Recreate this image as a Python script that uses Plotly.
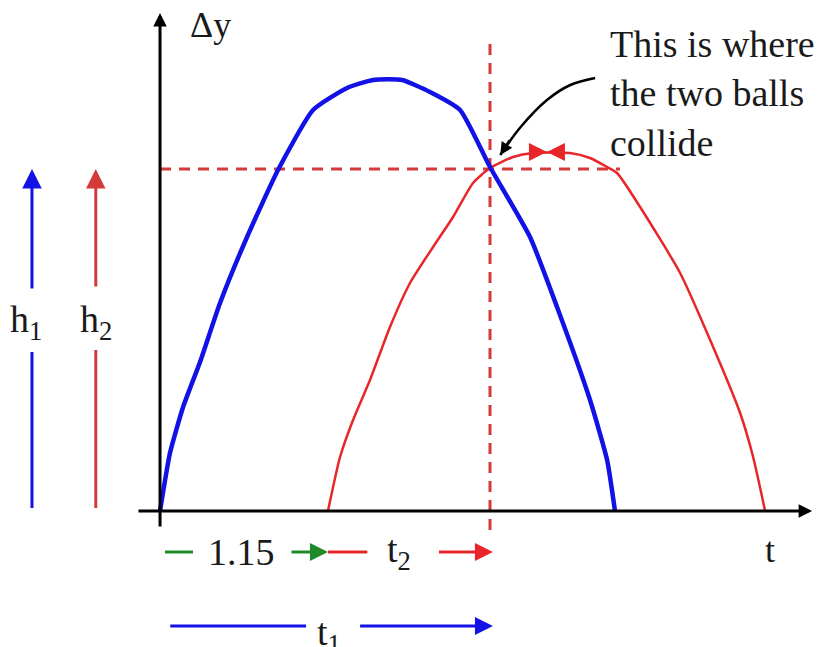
import plotly.graph_objects as go

# ---- data (time in s, height in arbitrary units) ----
t_blue = [0.0, 0.068, 0.158, 0.274, 0.411, 0.596, 0.808, 1.048, 1.281, 1.459, 1.658,
          1.849, 2.055, 2.260, 2.534, 2.719, 2.945, 3.062, 3.116]
y_blue = [0.0, 0.58, 1.04, 1.49, 2.08, 2.74, 3.41, 4.01, 4.23, 4.31, 4.31,
          4.19, 4.01, 3.44, 2.74, 2.04, 1.11, 0.51, 0.0]
t_red = [1.15, 1.233, 1.322, 1.438, 1.575, 1.712, 1.870, 2.007, 2.144, 2.260, 2.418,
         2.555, 2.808, 2.945, 3.062, 3.130, 3.288, 3.562, 3.747, 3.973, 4.062, 4.144]
y_red = [0.0, 0.54, 0.91, 1.31, 1.84, 2.28, 2.64, 2.94, 3.28, 3.43, 3.54,
         3.58, 3.58, 3.53, 3.44, 3.38, 3.04, 2.38, 1.78, 0.98, 0.54, 0.0]
t_delay = 1.15
t_collide = 2.26
h_collide = 3.42
t_red_apex = 2.65
y_red_apex = 3.59
callout_t = [2.98, 2.81, 2.65, 2.47, 2.33]
callout_y = [4.33, 4.26, 4.11, 3.84, 3.56]
callout_text = "This is where<br>the two balls<br>collide"

FONT = "Liberation Serif, Times New Roman, serif"
BLUE = "#1212e6"
RED = "#e8262a"
DRED = "#d43a3a"
GREEN = "#1f8a2a"
TXT = "#1a1a1a"

fig = go.Figure()

def seg(x, y, color, width, dash=None, shape="linear", smoothing=None):
    line = dict(color=color, width=width, dash=dash, shape=shape)
    if smoothing is not None:
        line["smoothing"] = smoothing
    fig.add_trace(go.Scatter(x=x, y=y, mode="lines", hoverinfo="skip", line=line))

# dashed guide lines
seg([t_collide, t_collide], [-0.19, 4.73], DRED, 3, "11px,8px")
seg([0, 3.15], [h_collide, h_collide], DRED, 3, "11px,8px")
# trajectories
seg(t_red, y_red, RED, 2.5, shape="spline", smoothing=0.6)
seg(t_blue, y_blue, BLUE, 4.5, shape="spline", smoothing=0.5)
# callout curve
seg(callout_t, callout_y, "black", 2.5, shape="spline")

# plain line parts of the labelled arrows
seg([-0.877, -0.877], [0.03, 1.59], BLUE, 3)
seg([-0.44, -0.44], [0.03, 1.61], DRED, 3)
seg([0.034, 0.226], [-0.41, -0.41], GREEN, 3)
seg([t_delay, 1.42], [-0.41, -0.41], RED, 3)
seg([0.07, 1.0], [-1.15, -1.15], BLUE, 3)

ann = []

def arrow(tx, ty, hx, hy, color, width=3, size=1.0, head=2):
    ann.append(dict(x=hx, y=hy, ax=tx, ay=ty, xref="x", yref="y", axref="x", ayref="y",
                    text="", showarrow=True, arrowhead=head, arrowwidth=width,
                    arrowsize=size, arrowcolor=color, standoff=0, startstandoff=0))

# axes
arrow(-0.158, 0, 4.466, 0, "black", 3, 0.9)
arrow(0, -0.17, 0, 4.98, "black", 3, 0.9)
# h arrows
arrow(-0.877, 2.21, -0.877, h_collide, BLUE, 3, 1.3)
arrow(-0.44, 2.23, -0.44, h_collide, DRED, 3, 1.3)
# time arrows
arrow(0.89, -0.41, t_delay, -0.41, GREEN, 3, 1.2)
arrow(1.90, -0.41, t_collide + 0.02, -0.41, RED, 3, 1.2)
arrow(1.36, -1.15, t_collide + 0.02, -1.15, BLUE, 3, 1.2)
# apex arrowheads on red curve
arrow(2.52, y_red_apex, t_red_apex, y_red_apex, RED, 2, 1.8)
arrow(2.78, y_red_apex, t_red_apex, y_red_apex, RED, 2, 1.8)
# callout arrow head
arrow(2.40, 3.72, callout_t[-1], callout_y[-1], "black", 2.5, 1.0)

def label(x, y, text, size, xanchor="center", yanchor="middle", align="center"):
    ann.append(dict(x=x, y=y, xref="x", yref="y", text=text, showarrow=False,
                    xanchor=xanchor, yanchor=yanchor, align=align,
                    font=dict(family=FONT, size=size, color=TXT)))

label(0.19, 4.86, "Δy", 36, xanchor="left")
label(4.18, -0.39, "t", 36)
label(3.07, 4.90, callout_text, 38, xanchor="left", yanchor="top", align="left")
label(-0.918, 1.89, "h<sub>1</sub>", 38)
label(-0.44, 1.89, "h<sub>2</sub>", 38)
label(0.56, -0.41, "1.15", 38)
label(1.64, -0.41, "t<sub>2</sub>", 38)
label(1.16, -1.24, "t<sub>1</sub>", 38)

fig.update_layout(
    width=827, height=647, autosize=False,
    margin=dict(l=0, r=0, t=0, b=0),
    paper_bgcolor="white", plot_bgcolor="white",
    showlegend=False,
    xaxis=dict(range=[-1.096, 4.568], visible=False, fixedrange=True),
    yaxis=dict(range=[-1.36, 5.11], visible=False, fixedrange=True),
    annotations=ann,
)

fig.write_html("out.html", config={"displayModeBar": False},
               post_script="document.body.style.margin='0';document.body.style.overflow='hidden';")
